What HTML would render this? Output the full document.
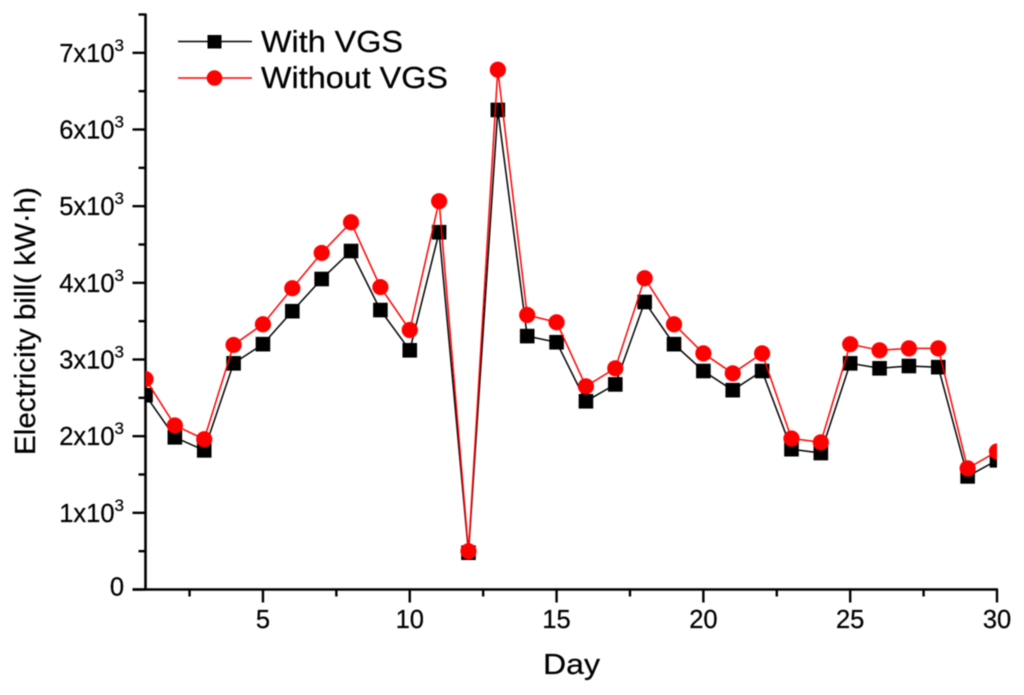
<!DOCTYPE html>
<html lang="en">
<head>
<meta charset="utf-8">
<title>Electricity bill by day</title>
<style>
  html, body { margin: 0; padding: 0; background: #ffffff; }
  #chart { display: block; filter: blur(0.45px); }
  text { font-family: "Liberation Sans", Arial, sans-serif; fill: #000000; stroke: #000000; stroke-width: 0.25px; }
</style>
</head>
<body>
<svg id="chart" width="1024" height="695" viewBox="0 0 1024 695" xmlns="http://www.w3.org/2000/svg"></svg>
<script>
const days = [1,2,3,4,5,6,7,8,9,10,11,12,13,14,15,16,17,18,19,20,21,22,23,24,25,26,27,28,29,30];
const withVgs = [2534,1985,1815,2950,3200,3630,4050,4415,3645,3120,4660,480,6255,3305,3225,2455,2675,3750,3200,2850,2600,2850,1830,1780,2950,2885,2915,2900,1475,1685];
const withoutVgs = [2745,2140,1960,3190,3460,3930,4390,4790,3945,3385,5065,500,6780,3580,3485,2650,2885,4060,3460,3080,2820,3080,1970,1920,3200,3120,3145,3145,1580,1800];
const xMajorTicks = [5,10,15,20,25,30];
const xMinorTicks = [2.5,7.5,12.5,17.5,22.5,27.5];
const yMajorTicks = [0,1000,2000,3000,4000,5000,6000,7000];
const yMinorTicks = [500,1500,2500,3500,4500,5500,6500,7500];

const NS = 'http://www.w3.org/2000/svg';
const svg = document.getElementById('chart');
const X0 = 145.5, X1 = 997, Y0 = 589.5, YTOP = 14.5;
const xScale = function (d) { return X0 + (d - 1) * (X1 - X0) / 29; };
const yScale = function (v) { return Y0 - v * (Y0 - YTOP) / 7500; };

function make(tag, attrs, parent) {
  const el = document.createElementNS(NS, tag);
  for (const k in attrs) el.setAttribute(k, attrs[k]);
  (parent || svg).appendChild(el);
  return el;
}

const defs = make('defs', {});
const clip = make('clipPath', { id: 'plot-clip' }, defs);
make('rect', { x: X0, y: 0, width: X1 - X0, height: 695 }, clip);

const axesGroup = make('g', { stroke: '#000000', fill: 'none', 'stroke-linecap': 'butt' });



const yAxisLine = make('line', { x1: X0, x2: X0, y1: YTOP - 1, y2: Y0 + 1, 'stroke-width': 2.6 }, axesGroup);


const xAxisLine = make('line', { x1: X0 - 13, x2: X1 + 1, y1: Y0, y2: Y0, 'stroke-width': 2.6 }, axesGroup);



yMajorTicks.forEach(function (v) {
  const t = make('line', { x1: X0 - 13, x2: X0, y1: yScale(v), y2: yScale(v), 'stroke-width': 2.4 }, axesGroup);
  
  
  const label = make('text', { x: 124, y: yScale(v) + 9, 'text-anchor': 'end', 'font-size': 25.5 });
  
  
  if (v === 0) {
    label.setAttribute('y', yScale(v) + 6);
    label.textContent = '0';
  } else {
    const base = make('tspan', {}, label);
    base.textContent = (v / 1000) + 'x10';
    const sup = make('tspan', { dy: -11, 'font-size': 17 }, label);
    sup.textContent = '3';
  }
});
yMinorTicks.forEach(function (v) {
  const t = make('line', { x1: X0 - 7, x2: X0, y1: yScale(v), y2: yScale(v), 'stroke-width': 2.4 }, axesGroup);
  
  
});
xMajorTicks.forEach(function (d) {
  const t = make('line', { x1: xScale(d), x2: xScale(d), y1: Y0, y2: Y0 + 13, 'stroke-width': 2.4 }, axesGroup);
  
  
  const label = make('text', { x: xScale(d), y: 628, 'text-anchor': 'middle', 'font-size': 25.5 });
  
  
  label.textContent = d;
});
xMinorTicks.forEach(function (d) {
  const t = make('line', { x1: xScale(d), x2: xScale(d), y1: Y0, y2: Y0 + 7, 'stroke-width': 2.4 }, axesGroup);
  
  
});

function drawSeries(name, values, color, shape) {
  const g = make('g', { 'clip-path': 'url(#plot-clip)' });
  
  
  const pts = days.map(function (d, i) { return xScale(d).toFixed(1) + ',' + yScale(values[i]).toFixed(1); }).join(' ');
  const line = make('polyline', { points: pts, fill: 'none', stroke: color, 'stroke-width': 1.5 }, g);
  
  
  days.forEach(function (d, i) {
    const cx = xScale(d), cy = yScale(values[i]);
    const m = shape === 'square'
      ? make('rect', { x: cx - 7.3, y: cy - 7.3, width: 14.6, height: 14.6, fill: color }, g)
      : make('circle', { cx: cx, cy: cy, r: 8.1, fill: color }, g);
    
    
  });
}
drawSeries('with-vgs', withVgs, '#000000', 'square');
drawSeries('without-vgs', withoutVgs, '#ff0000', 'circle');

const legend = make('g', {});



const e1 = make('g', {}, legend);


make('line', { x1: 178, x2: 252, y1: 41.5, y2: 41.5, stroke: '#000000', 'stroke-width': 1.4 }, e1);
make('rect', { x: 207.5, y: 35, width: 14, height: 13.5, fill: '#000000' }, e1);
const t1 = make('text', { x: 261, y: 52, 'font-size': 30.5, textLength: 142, lengthAdjust: 'spacingAndGlyphs' }, e1);
t1.textContent = 'With VGS';

const e2 = make('g', {}, legend);


make('line', { x1: 178, x2: 252, y1: 78, y2: 78, stroke: '#ff0000', 'stroke-width': 1.4 }, e2);
make('circle', { cx: 214.5, cy: 78, r: 7.8, fill: '#ff0000' }, e2);
const t2 = make('text', { x: 261, y: 88, 'font-size': 30.5, textLength: 187, lengthAdjust: 'spacingAndGlyphs' }, e2);
t2.textContent = 'Without VGS';

const xTitle = make('text', { x: 543, y: 674, 'font-size': 28.5, textLength: 57, lengthAdjust: 'spacingAndGlyphs' });


xTitle.textContent = 'Day';

const yTitle = make('text', { transform: 'translate(35 455) rotate(-90)', x: 0, y: 0, 'font-size': 29, textLength: 268, lengthAdjust: 'spacingAndGlyphs' });


yTitle.textContent = 'Electricity bill( kW·h)';
</script>
</body>
</html>
